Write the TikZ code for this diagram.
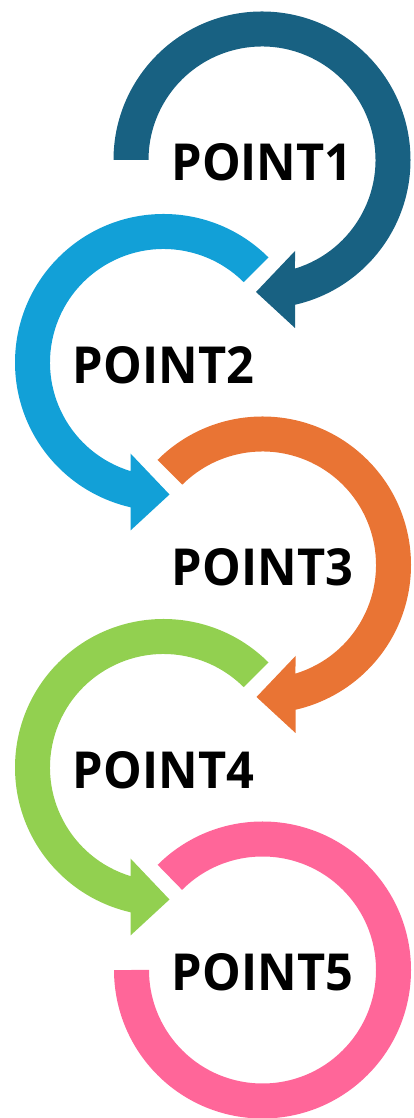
\documentclass[tikz,border=0pt]{standalone}
\usepackage{fontspec}
\newfontfamily\lblfont{Open Sans}
\definecolor{ringA}{HTML}{186182}
\definecolor{ringB}{HTML}{12A0D7}
\definecolor{ringC}{HTML}{E97434}
\definecolor{ringD}{HTML}{92D050}
\definecolor{ringE}{HTML}{FF6699}
\newcommand{\ringlabel}[1]{\scalebox{0.955}[1]{\lblfont\bfseries\fontsize{51}{51}\selectfont #1}}
\tikzset{
  band/.style={line width=35pt},
  lbl/.style={inner sep=0pt, anchor=base, text=black},
}
% ring of outer radius 148.5 and inner radius 113.5;
% the shaft ends in a vertical cut at x=+-33 below the centre,
% where a triangular head takes over
\begin{document}
\begin{tikzpicture}[x=1pt, y=1pt]
  \useasboundingbox (0,0) rectangle (413,1118);

  % ring 1: clockwise from the left, head pointing left
  \begin{scope}[shift={(262,958)}]
    \fill[ringA] (180:148.5) arc[start angle=180, end angle=-77.16, radius=148.5]
      -- (33,-168) -- (-6,-132) -- (33,-91)
      -- (-73.1:113.5) arc[start angle=-73.1, end angle=180, radius=113.5] -- cycle;
    \node[lbl] (p1) at (0,-21) {\ringlabel{POINT1}};
  \end{scope}

  % ring 2: counter-clockwise from upper right, head pointing right
  \begin{scope}[shift={(163.5,755.5)}]
    \fill[ringB] (45:148.5) arc[start angle=45, end angle=257.16, radius=148.5]
      -- (-33,-168) -- (6,-132) -- (-33,-91)
      -- (253.1:113.5) arc[start angle=253.1, end angle=45, radius=113.5] -- cycle;
    \node[lbl] (p2) at (0,-21) {\ringlabel{POINT2}};
  \end{scope}

  % ring 3: clockwise from upper left, head pointing left
  \begin{scope}[shift={(262.5,553)}]
    \fill[ringC] (135:148.5) arc[start angle=135, end angle=-77.16, radius=148.5]
      -- (33,-168) -- (-6,-132) -- (33,-91)
      -- (-73.1:113.5) arc[start angle=-73.1, end angle=135, radius=113.5] -- cycle;
    \node[lbl] (p3) at (0,-21) {\ringlabel{POINT3}};
  \end{scope}

  % ring 4: counter-clockwise from upper right, head pointing right
  \begin{scope}[shift={(163.5,350.5)}]
    \fill[ringD] (45:148.5) arc[start angle=45, end angle=257.16, radius=148.5]
      -- (-33,-168) -- (6,-132) -- (-33,-91)
      -- (253.1:113.5) arc[start angle=253.1, end angle=45, radius=113.5] -- cycle;
    \node[lbl] (p4) at (0,-21) {\ringlabel{POINT4}};
  \end{scope}

  % ring 5: open ring without a head
  \begin{scope}[shift={(262.5,148)}]
    \draw[band, ringE] (135:131) arc[start angle=135, end angle=-180, radius=131];
    \node[lbl] (p5) at (0,-21) {\ringlabel{POINT5}};
  \end{scope}
\end{tikzpicture}
\end{document}
